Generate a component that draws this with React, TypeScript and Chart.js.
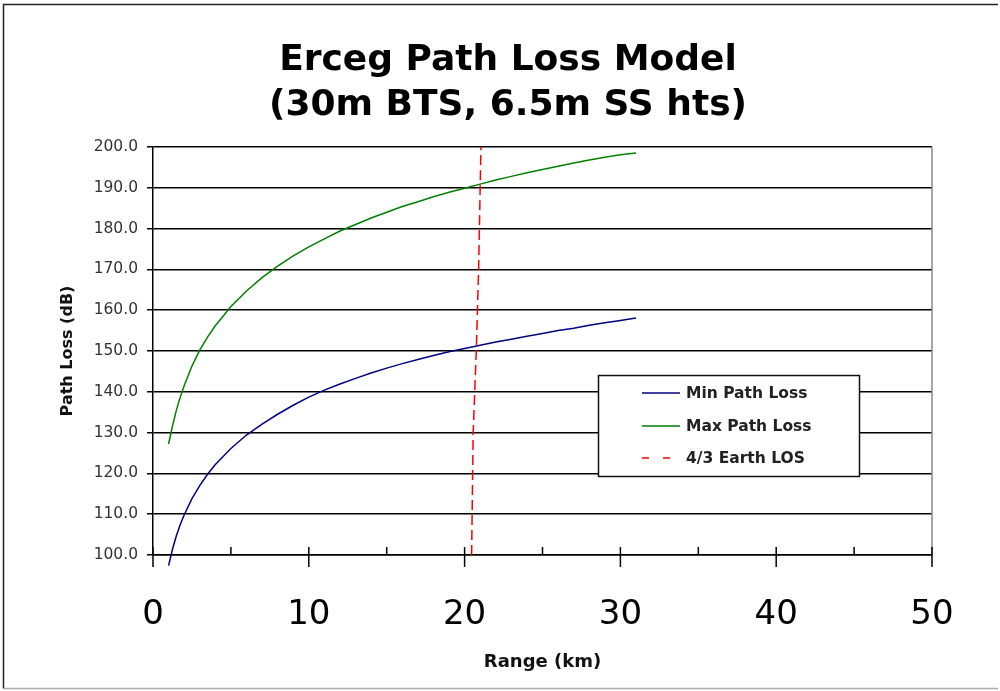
import React, { useEffect, useRef } from 'react';
import { Chart, registerables } from 'chart.js';

Chart.register(...registerables);

const chartTitle = ['Erceg Path Loss Model', '(30m BTS, 6.5m SS hts)'];
const xAxisTitle = 'Range (km)';
const yAxisTitle = 'Path Loss (dB)';
const seriesNames = ['Min Path Loss', 'Max Path Loss', '4/3 Earth LOS'];

const rangeKm = [1, 1.25, 1.5, 1.75, 2, 2.5, 3, 3.5, 4, 5, 6, 7, 8, 9, 10, 11, 12, 13, 14, 15, 16, 17, 18, 19, 20, 21, 22, 23, 24, 25, 26, 27, 28, 29, 30, 31];
const minPathLoss = [97.4, 101.4, 104.7, 107.5, 109.8, 113.8, 117.0, 119.8, 122.2, 126.1, 129.4, 132.1, 134.5, 136.7, 138.7, 140.4, 141.9, 143.3, 144.6, 145.8, 146.9, 147.9, 148.9, 149.8, 150.6, 151.4, 152.2, 152.9, 153.6, 154.3, 155.0, 155.6, 156.3, 156.9, 157.5, 158.1];
const maxPathLoss = [127.2, 131.6, 135.5, 138.7, 141.5, 146.3, 150.2, 153.4, 156.2, 160.9, 164.7, 168.0, 170.8, 173.3, 175.5, 177.5, 179.4, 181.0, 182.6, 184.0, 185.4, 186.6, 187.8, 188.9, 189.9, 190.9, 191.9, 192.8, 193.7, 194.5, 195.3, 196.1, 196.8, 197.5, 198.1, 198.5];
const losRangeKm = [20.45, 20.55, 20.75, 20.9, 21.05];
const losPathLoss = [100, 130, 150, 170, 200];

const xMin = 0;
const xMax = 50;
const xMajorStep = 10;
const xMinorStep = 5;
const yMin = 100;
const yMax = 200;
const yStep = 10;

const FONT = "'DejaVu Sans', 'Liberation Sans', sans-serif";

export default function App() {
  const ref = useRef<HTMLCanvasElement>(null);

  useEffect(() => {
    document.body.style.margin = '0';
    const canvas = ref.current;
    if (!canvas) return;

    const decor = {
      id: 'decor',
      afterDraw(chart: any) {
        const ctx = chart.ctx as CanvasRenderingContext2D;
        const { top, bottom, right } = chart.chartArea;
        const xs = chart.scales.x;
        ctx.save();

        // right plot border
        ctx.strokeStyle = '#8a8a8a';
        ctx.lineWidth = 1.5;
        ctx.beginPath();
        ctx.moveTo(right, top);
        ctx.lineTo(right, bottom);
        ctx.stroke();

        // x-axis tick marks (major cross the axis, minor inside)
        ctx.strokeStyle = '#000';
        ctx.lineWidth = 1.5;
        for (let v = xMin; v <= xMax; v += xMinorStep) {
          const px = xs.getPixelForValue(v);
          const major = v % xMajorStep === 0;
          ctx.beginPath();
          ctx.moveTo(px, bottom - 8);
          ctx.lineTo(px, major ? bottom + 12 : bottom);
          ctx.stroke();
        }

        // legend
        const bx = 598.5, by = 375.5, bw = 261, bh = 101;
        ctx.fillStyle = '#fff';
        ctx.fillRect(bx, by, bw, bh);
        ctx.strokeStyle = '#111';
        ctx.lineWidth = 1.5;
        ctx.strokeRect(bx, by, bw, bh);
        const rows = [393, 426, 458];
        chart.data.datasets.forEach((ds: any, i: number) => {
          const y = rows[i];
          ctx.strokeStyle = ds.borderColor;
          ctx.lineWidth = 1.5;
          ctx.setLineDash(ds.borderDash ? [7, 14] : []);
          ctx.beginPath();
          ctx.moveTo(642, y);
          ctx.lineTo(680, y);
          ctx.stroke();
          ctx.setLineDash([]);
          ctx.fillStyle = '#222';
          ctx.font = `bold 15.5px ${FONT}`;
          ctx.textAlign = 'left';
          ctx.textBaseline = 'middle';
          ctx.fillText(ds.label, 686, y + 1);
        });

        // title
        ctx.fillStyle = '#000';
        ctx.font = `bold 36px ${FONT}`;
        ctx.textAlign = 'center';
        ctx.textBaseline = 'middle';
        ctx.fillText(chartTitle[0], 508, 61);
        ctx.fillText(chartTitle[1], 508, 106);

        // outer frame
        ctx.strokeStyle = '#222';
        ctx.lineWidth = 1.5;
        ctx.beginPath();
        ctx.moveTo(3.5, 688.5);
        ctx.lineTo(3.5, 4.5);
        ctx.lineTo(998, 4.5);
        ctx.stroke();
        ctx.strokeStyle = '#aaa';
        ctx.beginPath();
        ctx.moveTo(3.5, 688.5);
        ctx.lineTo(998, 688.5);
        ctx.stroke();

        ctx.restore();
      },
    };

    const chart = new Chart(canvas, {
      type: 'scatter',
      data: {
        datasets: [
          {
            label: seriesNames[0],
            data: rangeKm.map((x, i) => ({ x, y: minPathLoss[i] })),
            showLine: true,
            borderColor: '#000080',
            backgroundColor: '#000080',
            borderWidth: 1.5,
            pointRadius: 0,
            clip: false,
          },
          {
            label: seriesNames[1],
            data: rangeKm.map((x, i) => ({ x, y: maxPathLoss[i] })),
            showLine: true,
            borderColor: '#008000',
            backgroundColor: '#008000',
            borderWidth: 1.5,
            pointRadius: 0,
            clip: false,
          },
          {
            label: seriesNames[2],
            data: losRangeKm.map((x, i) => ({ x, y: losPathLoss[i] })),
            showLine: true,
            borderColor: '#ff0000',
            backgroundColor: '#ff0000',
            borderWidth: 1.5,
            borderDash: [10, 5],
            pointRadius: 0,
            clip: false,
          },
        ],
      },
      options: {
        responsive: false,
        animation: false,
        events: [],
        layout: { padding: { top: 147, right: 68, bottom: 0, left: 0 } },
        plugins: {
          legend: { display: false },
          tooltip: { enabled: false },
          title: { display: false },
        },
        scales: {
          x: {
            type: 'linear',
            min: xMin,
            max: xMax,
            ticks: {
              stepSize: xMajorStep,
              font: { family: FONT, size: 34 },
              color: '#000',
              padding: 40,
              maxRotation: 0,
              autoSkip: false,
            },
            grid: { display: true, drawOnChartArea: false, drawTicks: false },
            border: { display: true, color: '#000', width: 1.5 },
            title: {
              display: true,
              text: xAxisTitle,
              font: { family: FONT, size: 18, weight: 'bold' },
              color: '#111',
              padding: { top: 0, bottom: 18 },
            },
            afterFit(scale: any) {
              scale.height = 136;
            },
          },
          y: {
            min: yMin,
            max: yMax,
            ticks: {
              stepSize: yStep,
              callback: (v: any) => Number(v).toFixed(1),
              font: { family: FONT, size: 15.5 },
              color: '#333',
              padding: 9,
            },
            grid: { color: '#000', lineWidth: 1.5, tickLength: 6, drawTicks: true },
            border: { display: true, color: '#000', width: 1.5 },
            title: {
              display: true,
              text: yAxisTitle,
              font: { family: FONT, size: 16, weight: 'bold' },
              color: '#111',
              padding: { top: 58, bottom: 0 },
            },
            afterFit(scale: any) {
              scale.width = 153;
            },
          },
        },
      } as any,
      plugins: [decor],
    });

    return () => chart.destroy();
  }, []);

  return (
    <div style={{ width: 1000, height: 691 }}>
      <canvas ref={ref} width={1000} height={691} style={{ display: 'block' }} />
    </div>
  );
}
